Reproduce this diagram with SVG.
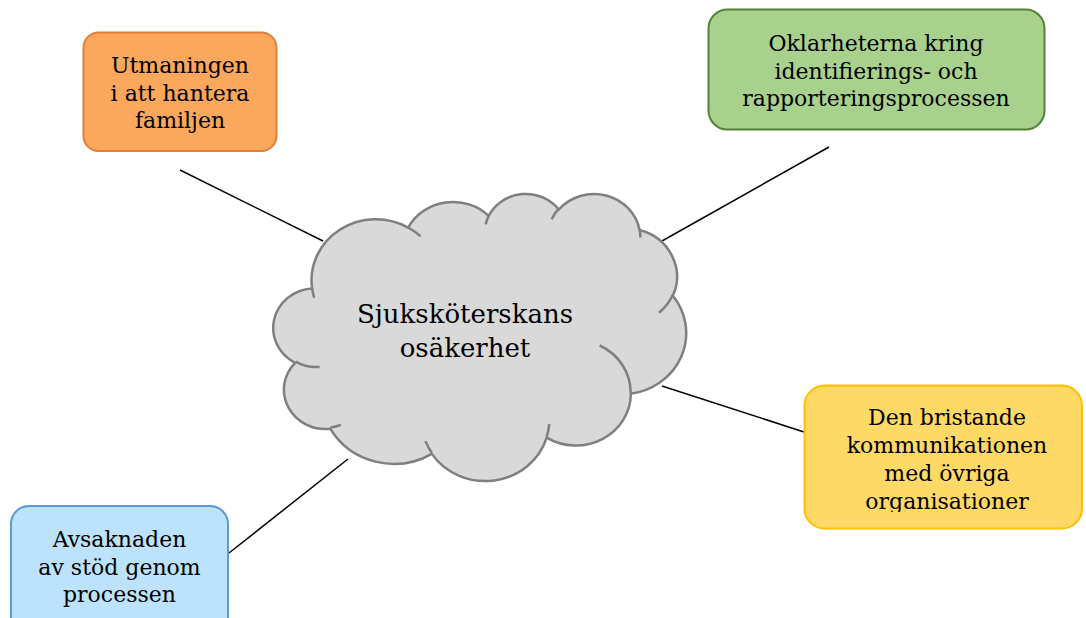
<svg xmlns="http://www.w3.org/2000/svg" width="1086" height="618" viewBox="0 0 1086 618">
<style>
.lbl{font-family:"DejaVu Serif","Liberation Serif",serif;font-size:22px;fill:#000;text-anchor:middle}
.ctr{font-family:"DejaVu Serif","Liberation Serif",serif;font-size:26px;fill:#000;text-anchor:middle}
.conn line{stroke:#000;stroke-width:1.5}
.cl{fill:#D9D9D9;stroke:#7F7F7F;stroke-width:2.5}
.cli{fill:none;stroke:#7F7F7F;stroke-width:2.5}
</style>
<defs>
<clipPath id="clipY"><rect x="804" y="385" width="282" height="127"/></clipPath>
</defs>
<rect width="1086" height="618" fill="#fff"/>
<g id="connectors" class="conn">
<line x1="180" y1="170" x2="323" y2="241"/>
<line x1="662" y1="241" x2="829" y2="147"/>
<line x1="662" y1="386" x2="804" y2="432"/>
<line x1="348" y1="459" x2="229" y2="553"/>
</g>
<g id="center">
<g transform="translate(275,193) scale(0.009514,0.006644)">
<path class="cl" vector-effect="non-scaling-stroke" d="M3900,14370 A6753,9190 0 0 1 14005.6,5202.5 A5333,7267 0 0 1 22456.3,3432.9 A4365,5945 0 0 1 29833.1,2481.5 A4857,6595 0 0 1 38318.4,5576.4 A5333,7273 0 0 1 41818.8,15459.8 A6775,9220 0 0 1 37404.8,30203.3 A5785,7867 0 0 1 28556.3,36813.4 A6752,9215 0 0 1 16481.6,39266.4 A7720,10543 0 0 1 5805.8,35472.4 A4360,5918 0 0 1 2114.1,25551.1 A4345,5945 0 0 1 3900,14370 Z"/>
<path class="cli" vector-effect="non-scaling-stroke" d="M4693,26177 A4345,5945 0 0 1 2159.8,25380 M6928,34899 A4360,5918 0 0 1 5819.9,35280.5 M16478,39090 A6752,9215 0 0 1 15809.4,37348 M28827,34751 A6752,9215 0 0 1 28560.4,36660.2 M34129,22954 A5785,7867 0 0 1 37380.5,30089.7 M41798,15354 A5333,7273 0 0 1 40349.7,18030.2 M38324,5426 A4857,6595 0 0 1 38400.5,6689.6 M29078,3952 A4857,6595 0 0 1 29819.8,2339.6 M22141,4720 A4365,5945 0 0 1 22500.3,3330.2 M14000,5192 A6753,9190 0 0 1 15299.5,6540 M4127,15789 A6753,9190 0 0 1 3900.3,14370.9"/>
</g>
<text class="ctr" x="465" y="323">Sjuksköterskans</text>
<text class="ctr" x="465" y="357">osäkerhet</text>
</g>
<g id="n-family">
<rect x="83.5" y="32.5" width="193" height="118.5" rx="15" fill="#FBA75C" stroke="#DE7F3C" stroke-width="2"/>
<text class="lbl" x="180" y="73">Utmaningen</text>
<text class="lbl" x="180" y="100.5">i att hantera</text>
<text class="lbl" x="180" y="128">familjen</text>
</g>
<g id="n-process">
<rect x="708.5" y="9.5" width="336" height="120" rx="19" fill="#A9D18E" stroke="#548235" stroke-width="2"/>
<text class="lbl" x="876" y="51">Oklarheterna kring</text>
<text class="lbl" x="876" y="78.5">identifierings- och</text>
<text class="lbl" x="876" y="106">rapporteringsprocessen</text>
</g>
<g id="n-comm">
<rect x="804.5" y="385.5" width="277.5" height="143" rx="20" fill="#FFD966" stroke="#FFC000" stroke-width="2"/>
<g clip-path="url(#clipY)">
<text class="lbl" x="947" y="425">Den bristande</text>
<text class="lbl" x="947" y="453">kommunikationen</text>
<text class="lbl" x="947" y="481">med övriga</text>
<text class="lbl" x="947" y="509">organisationer</text>
</g>
</g>
<g id="n-support">
<rect x="11" y="506" width="217" height="130" rx="18" fill="#BDE3FC" stroke="#5B9BD5" stroke-width="2"/>
<text class="lbl" x="119.5" y="547">Avsaknaden</text>
<text class="lbl" x="119.5" y="574.5">av stöd genom</text>
<text class="lbl" x="119.5" y="602">processen</text>
</g>
</svg>
